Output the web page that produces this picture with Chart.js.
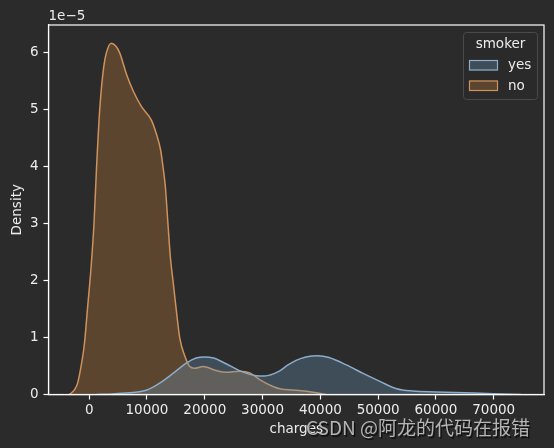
<!DOCTYPE html>
<html>
<head>
<meta charset="utf-8">
<script src="https://cdn.jsdelivr.net/npm/chart.js"></script>
<style>
  html, body { margin: 0; padding: 0; background: #2b2b2b; }
  #wrap { width: 554px; height: 448px; }
</style>
</head>
<body>
<div id="wrap"><canvas id="kde"></canvas></div>
<script>
// density values are in units of 1e-5
const noCharges = [-3400, -2500, -2000, -1400, -950, -720, -300, 300, 830, 1280, 1820, 2510, 2970, 3840, 4600, 5280, 6440, 7580, 9030, 10760, 11620, 12370, 12770, 13180, 13630, 14050, 14500, 15090, 15660, 16640, 17400, 18200, 19700, 22000, 23700, 26000, 27800, 29500, 31800, 33000, 36300, 38700, 41000];
const noDensity = [0, 0.09, 0.2, 0.5, 0.79, 1.0, 1.5, 2.2, 3.0, 4.0, 5.0, 5.75, 6.0, 6.17, 6.12, 6.0, 5.63, 5.34, 5.06, 4.82, 4.58, 4.29, 4.0, 3.65, 3.0, 2.41, 2.0, 1.47, 1.0, 0.65, 0.49, 0.46, 0.49, 0.42, 0.39, 0.41, 0.38, 0.26, 0.14, 0.10, 0.07, 0.04, 0];

const yesCharges = [1300, 4000, 7000, 8700, 10000, 12200, 14500, 16800, 18500, 20000, 21500, 23700, 26000, 28900, 30300, 32900, 34400, 35800, 37500, 39600, 41500, 44500, 47400, 50300, 53200, 56000, 60000, 65000, 70000, 74700];
const yesDensity = [0, 0.01, 0.03, 0.05, 0.08, 0.2, 0.37, 0.55, 0.64, 0.66, 0.64, 0.54, 0.42, 0.33, 0.325, 0.41, 0.52, 0.6, 0.66, 0.68, 0.65, 0.52, 0.37, 0.23, 0.10, 0.06, 0.045, 0.03, 0.015, 0];

const xTicks = [0, 10000, 20000, 30000, 40000, 50000, 60000, 70000];
const yTicks = [0, 1, 2, 3, 4, 5, 6];
const hueLabels = ['yes', 'no'];

const BG = '#2b2b2b';
const TXT = '#ececec';
const FONT = 'DejaVu Sans';
const FS = 13.5;

const toPoints = (xs, ys) => xs.map((x, i) => ({ x, y: ys[i] }));

const bgPlugin = {
  id: 'bg',
  beforeDraw(chart) {
    const { ctx, width, height } = chart;
    ctx.save();
    ctx.fillStyle = BG;
    ctx.fillRect(0, 0, width, height);
    ctx.restore();
  }
};

const extras = {
  id: 'extras',
  afterDraw(chart) {
    const { ctx, chartArea: a } = chart;
    ctx.save();
    // axes frame
    ctx.strokeStyle = '#ffffff';
    ctx.lineWidth = 1.2;
    ctx.strokeRect(a.left, a.top, a.right - a.left, a.bottom - a.top);

    // offset text
    ctx.fillStyle = TXT;
    ctx.font = FS + 'px ' + FONT;
    ctx.textAlign = 'left';
    ctx.textBaseline = 'alphabetic';
    ctx.fillText('1e\u22125', a.left, a.top - 5);

    // legend
    const lx = 463.5, ly = 32.5, lw = 74, lh = 67;
    ctx.fillStyle = 'rgba(43,43,43,0.8)';
    ctx.strokeStyle = '#4a4a4a';
    ctx.lineWidth = 1;
    ctx.beginPath();
    ctx.roundRect(lx, ly, lw, lh, 3);
    ctx.fill();
    ctx.stroke();
    ctx.fillStyle = TXT;
    ctx.textAlign = 'center';
    ctx.textBaseline = 'middle';
    ctx.fillText('smoker', lx + lw / 2, 44.5);
    chart.data.datasets.forEach((ds, i) => {
      const y = 60 + i * 20.5;
      ctx.fillStyle = BG;
      ctx.fillRect(469, y, 29, 10.5);
      ctx.fillStyle = ds.backgroundColor;
      ctx.fillRect(469, y, 29, 10.5);
      ctx.strokeStyle = ds.borderColor;
      ctx.lineWidth = 1.2;
      ctx.strokeRect(469.5, y + 0.5, 28, 9.5);
      ctx.fillStyle = TXT;
      ctx.textAlign = 'left';
      ctx.fillText(ds.label, 508, y + 5.5);
    });

    // watermark
    ctx.font = '19px "Noto Sans CJK SC"';
    ctx.textAlign = 'left';
    ctx.textBaseline = 'middle';
    ctx.fillStyle = 'rgba(0,0,0,0.6)';
    ctx.fillText('CSDN @阿龙的代码在报错', 307.5, 429.5);
    ctx.fillStyle = '#b4b4b4';
    ctx.fillText('CSDN @阿龙的代码在报错', 306, 428);
    ctx.restore();
  }
};

new Chart(document.getElementById('kde'), {
  type: 'line',
  data: {
    datasets: [
      {
        label: hueLabels[0],
        data: toPoints(yesCharges, yesDensity),
        borderColor: 'rgb(140,172,202)',
        backgroundColor: 'rgba(107,149,185,0.33)',
        borderWidth: 1.5,
        fill: 'origin',
        pointRadius: 0,
        cubicInterpolationMode: 'monotone'
      },
      {
        label: hueLabels[1],
        data: toPoints(noCharges, noDensity),
        borderColor: 'rgb(206,146,92)',
        backgroundColor: 'rgba(194,125,55,0.33)',
        borderWidth: 1.5,
        fill: 'origin',
        pointRadius: 0,
        cubicInterpolationMode: 'monotone'
      }
    ]
  },
  options: {
    responsive: true,
    maintainAspectRatio: false,
    animation: false,
    layout: { padding: { left: 0, right: 10, top: 25, bottom: 0 } },
    plugins: {
      legend: { display: false },
      tooltip: { enabled: false }
    },
    scales: {
      x: {
        type: 'linear',
        min: -7040,
        max: 78700,
        afterBuildTicks: s => { s.ticks = xTicks.map(v => ({ value: v })); },
        afterFit: s => { s.height = 53.5; },
        ticks: { color: TXT, font: { family: FONT, size: FS }, padding: 3, maxRotation: 0, autoSkip: false, callback: v => String(v) },
        grid: { display: true, drawOnChartArea: false, drawTicks: true, tickLength: 5, color: '#ffffff', tickWidth: 1.2 },
        border: { display: true, color: '#ffffff', width: 1.2 },
        title: { display: true, text: 'charges', color: TXT, font: { family: FONT, size: FS }, padding: { top: 0, bottom: 10 } }
      },
      y: {
        type: 'linear',
        min: 0,
        max: 6.49,
        afterBuildTicks: s => { s.ticks = yTicks.map(v => ({ value: v })); },
        afterFit: s => { s.width = 48.5; },
        ticks: { color: TXT, font: { family: FONT, size: FS }, padding: 5, callback: v => String(v) },
        grid: { display: true, drawOnChartArea: false, drawTicks: true, tickLength: 5, color: '#ffffff', tickWidth: 1.2 },
        border: { display: true, color: '#ffffff', width: 1.2 },
        title: { display: true, text: 'Density', color: TXT, font: { family: FONT, size: FS }, padding: { top: 9, bottom: 0 } }
      }
    }
  },
  plugins: [bgPlugin, extras]
});
</script>
</body>
</html>
